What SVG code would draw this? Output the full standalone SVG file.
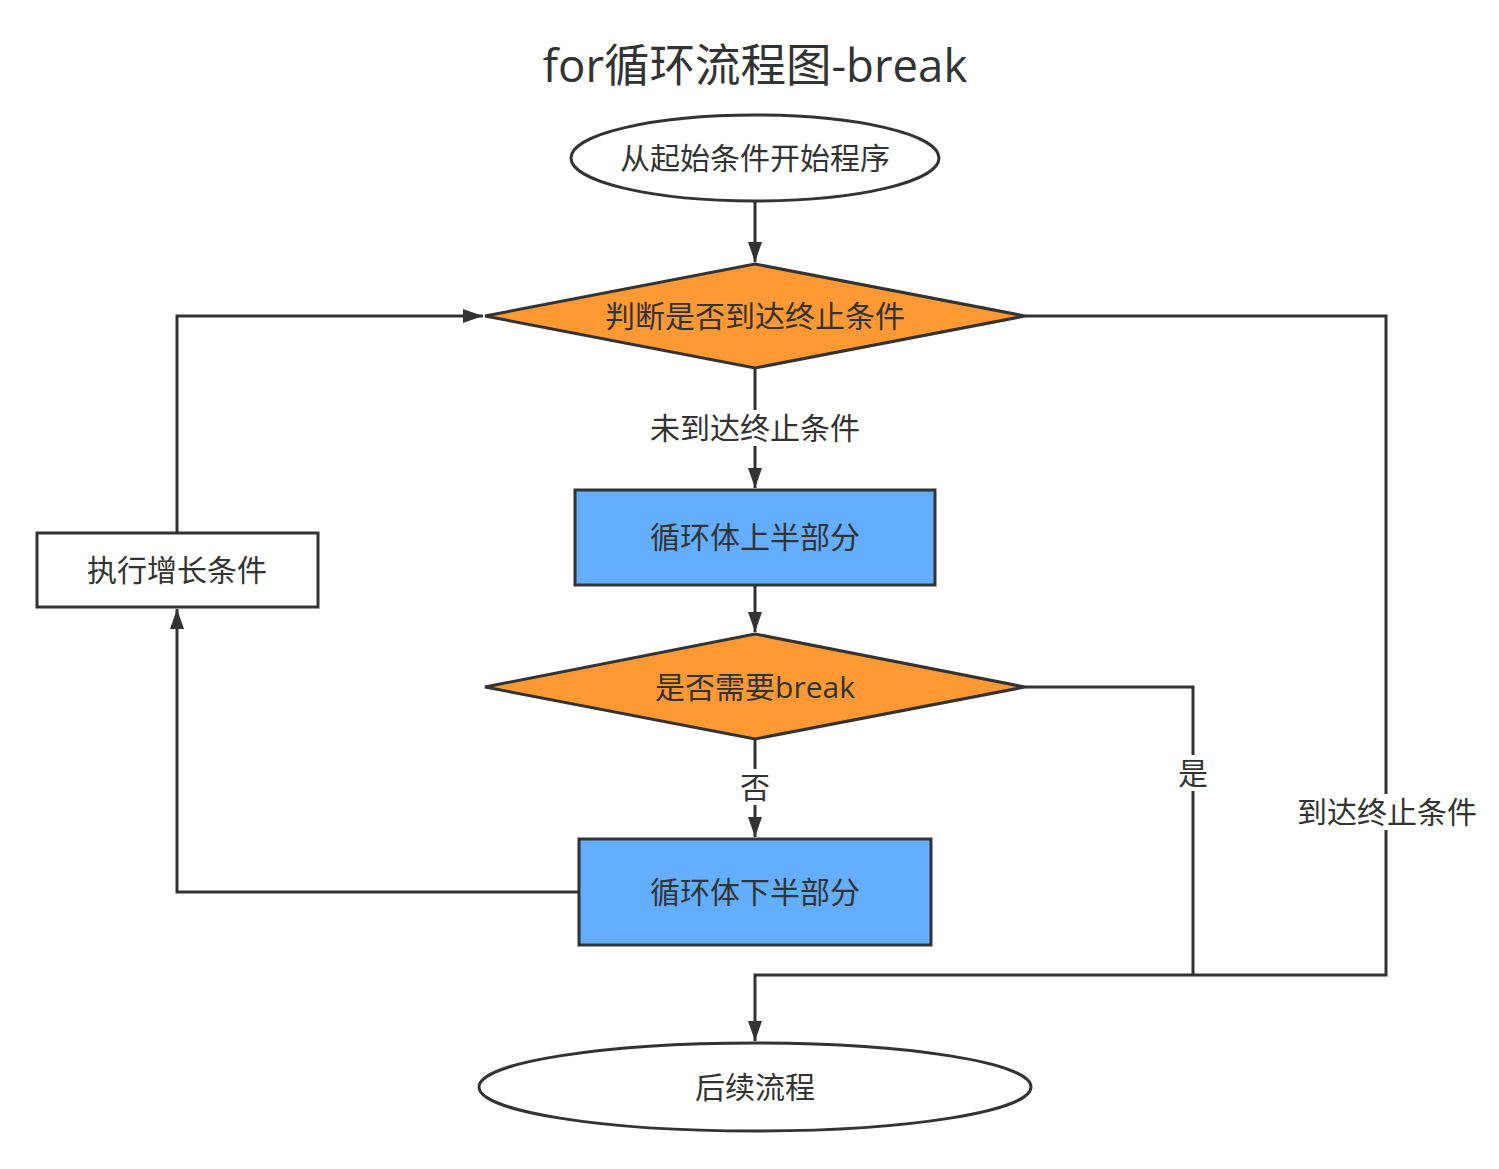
<svg xmlns="http://www.w3.org/2000/svg" width="1499" height="1169" viewBox="0 0 1499 1169">
<style>
.s{stroke:#333;stroke-width:3;}
.t{font-family:"Open Sans","Noto Sans CJK SC",sans-serif;font-size:30px;fill:#333;text-anchor:middle;dominant-baseline:central;}
.c{fill:none;stroke:#333;stroke-width:3;}
.lb{fill:#fff;stroke:none;}
</style>
<defs>
<marker id="ah" markerUnits="userSpaceOnUse" markerWidth="22" markerHeight="16" refX="20" refY="8" orient="auto">
<path d="M0,1 L20,8 L0,15 Z" fill="#333"/>
</marker>
</defs>
<rect width="1499" height="1169" fill="#fff"/>
<text x="755" y="64" class="t" style="font-size:45.5px">for循环流程图-break</text>
<g id="connectors">
<path class="c" d="M755,201 L755,262" marker-end="url(#ah)"/>
<path class="c" d="M755,368 L755,488" marker-end="url(#ah)"/>
<path class="c" d="M755,585 L755,632" marker-end="url(#ah)"/>
<path class="c" d="M755,739 L755,837" marker-end="url(#ah)"/>
<path class="c" d="M579,892 L177,892 L177,609" marker-end="url(#ah)"/>
<path class="c" d="M177,533 L177,316 L483,316" marker-end="url(#ah)"/>
<path class="c" d="M1025,316 L1386,316 L1386,975 L755,975 L755,1041" marker-end="url(#ah)"/>
<path class="c" d="M1025,687 L1193,687 L1193,975"/>
<rect class="lb" x="648" y="410" width="214" height="36"/>
<text x="755" y="427" class="t">未到达终止条件</text>
<rect class="lb" x="738" y="769" width="34" height="36"/>
<text x="755" y="786" class="t">否</text>
<rect class="lb" x="1176" y="755" width="34" height="36"/>
<text x="1193" y="772" class="t">是</text>
<rect class="lb" x="1294" y="794" width="186" height="36"/>
<text x="1387" y="811" class="t">到达终止条件</text>
</g>
<g id="start">
<ellipse class="s" cx="755" cy="158" rx="184" ry="43" fill="#fff"/>
<text x="755" y="157" class="t">从起始条件开始程序</text>
</g>
<g id="cond1">
<polygon class="s" points="755,264 1025,316 755,368 485,316" fill="#ff9933"/>
<text x="755" y="315" class="t">判断是否到达终止条件</text>
</g>
<g id="body1">
<rect class="s" x="575" y="490" width="360" height="95" fill="#63aeff"/>
<text x="755" y="536" class="t">循环体上半部分</text>
</g>
<g id="cond2">
<polygon class="s" points="755,634 1025,687 755,739 485,687" fill="#ff9933"/>
<text x="755" y="686" class="t">是否需要break</text>
</g>
<g id="body2">
<rect class="s" x="579" y="839" width="352" height="106" fill="#63aeff"/>
<text x="755" y="891" class="t">循环体下半部分</text>
</g>
<g id="incr">
<rect class="s" x="37" y="533" width="281" height="74" fill="#fff"/>
<text x="177" y="569" class="t">执行增长条件</text>
</g>
<g id="end">
<ellipse class="s" cx="755" cy="1087" rx="276" ry="44" fill="#fff"/>
<text x="755" y="1086" class="t">后续流程</text>
</g>
</svg>
